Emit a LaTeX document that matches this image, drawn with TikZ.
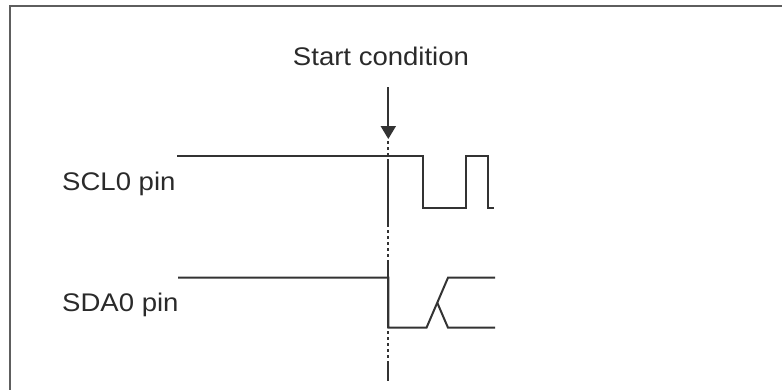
\documentclass[tikz,border=0pt]{standalone}
\usepackage{fontspec}
\setmainfont{Liberation Sans}
\usetikzlibrary{arrows.meta,calc}
\definecolor{sig}{HTML}{333333}
\definecolor{frm}{HTML}{5E5E5E}
\definecolor{txt}{HTML}{2A2A2A}
\tikzset{
  signal/.style={draw=sig, line width=2pt, line join=miter},
  lbl/.style={inner sep=0pt, text=txt, font=\fontsize{25.5}{28}\selectfont, xscale=1.08},
  marker/.style={draw=sig, line width=1.9pt,
    dash pattern=on 68pt off 3pt on 3pt off 3pt on 3pt off 3pt on 3pt off 3pt on 3pt off 3pt on 3pt off 3pt,
    dash phase=81pt},
  frame/.style={draw=frm, line width=2.2pt}
}
\begin{document}
\begin{tikzpicture}[x=1pt,y=-1pt]
\useasboundingbox (0,0) rectangle (782,389);
% frame (top and left edges visible)
\draw[frame] (10,390) -- (10,5.7) -- (783,5.7);
% labels
\node[lbl, anchor=base] (start) at (381,65) {Start condition};
\node[lbl, anchor=base west] (scl) at (62,190.7) {SCL0 pin};
\node[lbl, anchor=base west] (sda) at (62,311.7) {SDA0 pin};
% key points
\coordinate (atop) at (388.3,87);
\coordinate (atip) at (388.3,139);
\coordinate (vbot) at (388.3,381);
% start marker
\draw[sig, line width=1.9pt, -{Triangle[width=15pt,length=13pt]}] (atop) -- (atip);
\draw[marker] (atip) -- (vbot);
% SCL waveform
\coordinate (s0) at (177,155.7);
\coordinate (s1) at (422.7,155.7);
\coordinate (s2) at (422.7,207.7);
\coordinate (s3) at (466,207.7);
\coordinate (s4) at (466,155.7);
\coordinate (s5) at (488,155.7);
\coordinate (s6) at (488,207.7);
\coordinate (s7) at (493.5,207.7);
\draw[signal] (s0) -- (s1) -- (s2) -- (s3) -- (s4) -- (s5) -- (s6) -- (s7);
% SDA waveform
\coordinate (d0) at (178,277.7);
\coordinate (d1) at (388.3,277.7);
\coordinate (d2) at (388.3,327.7);
\coordinate (d3) at (426.5,327.7);
\coordinate (d4) at (448,277.7);
\coordinate (d5) at (495,277.7);
\coordinate (d6) at (448,327.7);
\coordinate (d7) at (495,327.7);
\draw[signal] (d0) -- (d1) -- (d2) -- (d3) -- (d4) -- (d5);
\draw[signal] ($(d3)!0.5!(d4)$) -- (d6) -- (d7);
\end{tikzpicture}
\end{document}
